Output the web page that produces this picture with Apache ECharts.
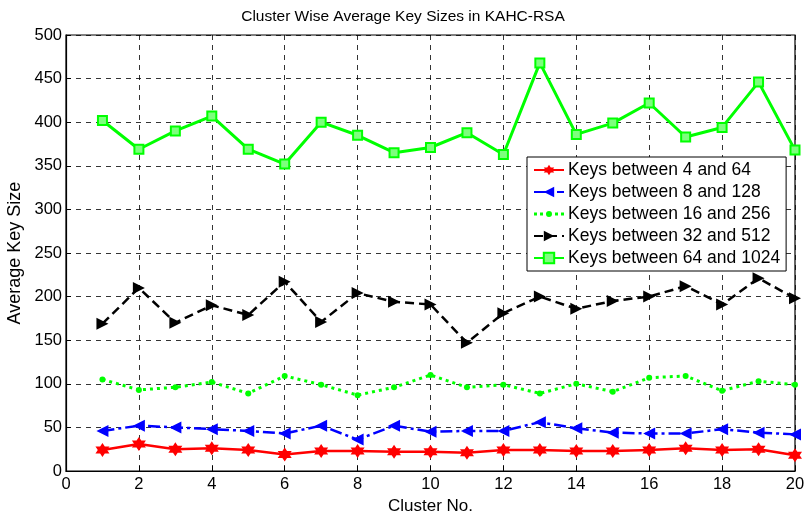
<!DOCTYPE html>
<html>
<head>
<meta charset="utf-8">
<script src="https://cdn.jsdelivr.net/npm/echarts@6/dist/echarts.min.js"></script>
<style>
  html, body { margin: 0; padding: 0; background: #fff; }
  #chart { width: 806px; height: 515px; }
</style>
</head>
<body>
<div id="chart"></div>
<script>
// Cluster numbers 1..20
const clusters = [1,2,3,4,5,6,7,8,9,10,11,12,13,14,15,16,17,18,19,20];

// Average key size per cluster, one array per key range
const keys4to64    = [24,31,25,26,24,19,23,23,22,22,21,24,24,23,23,24,26,24,25,18];
const keys8to128   = [46,52,50,48,46,43,52,36,52,45,46,46,56,49,44,43,43,48,44,42];
const keys16to256  = [105,93,96,102,89,109,99,87,96,110,96,99,89,100,91,107,109,92,103,99];
const keys32to512  = [169,210,170,190,179,217,171,204,194,191,147,181,200,186,195,200,212,191,221,198];
const keys64to1024 = [402,369,390,407,369,352,400,385,365,371,388,363,468,386,399,422,383,394,446,368];

const seriesNames = ['Keys between 4 and 64', 'Keys between 8 and 128', 'Keys between 16 and 256',
                     'Keys between 32 and 512', 'Keys between 64 and 1024'];

const xTicks = [0,2,4,6,8,10,12,14,16,18,20];
const yTicks = [0,50,100,150,200,250,300,350,400,450,500];

// six-pointed star marker
const hexagram = 'path://M0,-10 L2.9,-5 L8.66,-5 L5.8,0 L8.66,5 L2.9,5 L0,10 L-2.9,5 L-8.66,5 L-5.8,0 L-8.66,-5 L-2.9,-5Z';
// legend icon for the dotted series: short dots with a small point in the middle
const dottedIcon = 'path://M0,4.5h3v3h-3z M6,4.5h3v3h-3z M21,4.5h3v3h-3z M27,4.5h3v3h-3z ' +
                   'M12,6a3,3 0 1,0 6,0a3,3 0 1,0 -6,0z M0,0h0.01v0.01h-0.01z M29.99,11.99h0.01v0.01h-0.01z';

function pairs(arr) { return clusters.map((c, i) => [c, arr[i]]); }

const font = 'Liberation Sans, Arial, Helvetica, sans-serif';

const chart = echarts.init(document.getElementById('chart'), null, { renderer: 'canvas' });

const gridLine = { show: true, lineStyle: { color: '#000', width: 0.8, type: [5, 5] } };

chart.setOption({
  animation: false,
  backgroundColor: '#fff',
  textStyle: { fontFamily: font },
  title: {
    text: 'Cluster Wise Average Key Sizes in KAHC-RSA',
    left: 'center',
    top: 4,
    textStyle: { fontFamily: font, fontSize: 15.5, fontWeight: 'normal', color: '#000' }
  },
  grid: {
    left: 66, right: 11, top: 35, bottom: 44,
    containLabel: false,
    outerBoundsMode: 'none',
    show: true, borderColor: '#000', borderWidth: 1.2, backgroundColor: 'transparent'
  },
  legend: {
    orient: 'vertical',
    left: 527, top: 157,
    backgroundColor: '#fff',
    borderColor: '#000', borderWidth: 1,
    padding: [4, 6, 4, 6],
    itemGap: 4,
    itemWidth: 30, itemHeight: 13,
    textStyle: { fontFamily: font, fontSize: 17.5, color: '#000', padding: [0, 0, 0, -1] },
    data: [
      { name: seriesNames[0] },
      { name: seriesNames[1] },
      { name: seriesNames[2], icon: dottedIcon },
      { name: seriesNames[3] },
      { name: seriesNames[4] }
    ]
  },
  xAxis: {
    type: 'value', min: 0, max: 20, interval: 2,
    name: 'Cluster No.', nameLocation: 'middle', nameGap: 23,
    nameTextStyle: { fontFamily: font, fontSize: 17, color: '#000' },
    axisLine: { show: true, onZero: false, lineStyle: { color: '#000', width: 1.2 } },
    axisTick: { show: true, inside: true, length: 5, lineStyle: { color: '#000' } },
    axisLabel: { fontFamily: font, fontSize: 16.5, color: '#000', margin: 5,
                 formatter: v => xTicks.includes(v) ? String(v) : '' },
    splitLine: gridLine
  },
  yAxis: {
    type: 'value', min: 0, max: 500, interval: 50,
    name: 'Average Key Size', nameLocation: 'middle', nameGap: 38,
    nameTextStyle: { fontFamily: font, fontSize: 18, color: '#000' },
    axisLine: { show: true, onZero: false, lineStyle: { color: '#000', width: 1.2 } },
    axisTick: { show: true, inside: true, length: 5, lineStyle: { color: '#000' } },
    axisLabel: { fontFamily: font, fontSize: 16.5, color: '#000', margin: 4,
                 formatter: v => yTicks.includes(v) ? String(v) : '' },
    splitLine: gridLine
  },
  series: [
    {
      name: seriesNames[0], type: 'line', data: pairs(keys4to64),
      symbol: hexagram, symbolSize: 14,
      lineStyle: { color: '#ff0000', width: 2.5, type: 'solid' },
      itemStyle: { color: '#ff0000' }
    },
    {
      name: seriesNames[1], type: 'line', data: pairs(keys8to128),
      symbol: 'triangle', symbolRotate: 90, symbolSize: 12,
      lineStyle: { color: '#0000ff', width: 2.5, type: [12, 4, 3, 4] },
      itemStyle: { color: '#0000ff' }
    },
    {
      name: seriesNames[2], type: 'line', data: pairs(keys16to256),
      symbol: 'circle', symbolSize: 6,
      lineStyle: { color: '#00ff00', width: 3, type: [3, 4] },
      itemStyle: { color: '#00ff00' }
    },
    {
      name: seriesNames[3], type: 'line', data: pairs(keys32to512),
      symbol: 'triangle', symbolRotate: -90, symbolSize: 12,
      lineStyle: { color: '#000000', width: 2.5, type: [9, 5] },
      itemStyle: { color: '#000000' }
    },
    {
      name: seriesNames[4], type: 'line', data: pairs(keys64to1024),
      symbol: 'rect', symbolSize: 9,
      lineStyle: { color: '#00ff00', width: 3, type: 'solid' },
      itemStyle: { color: '#7dff7d', borderColor: '#00ff00', borderWidth: 2 }
    }
  ]
});
</script>
</body>
</html>
